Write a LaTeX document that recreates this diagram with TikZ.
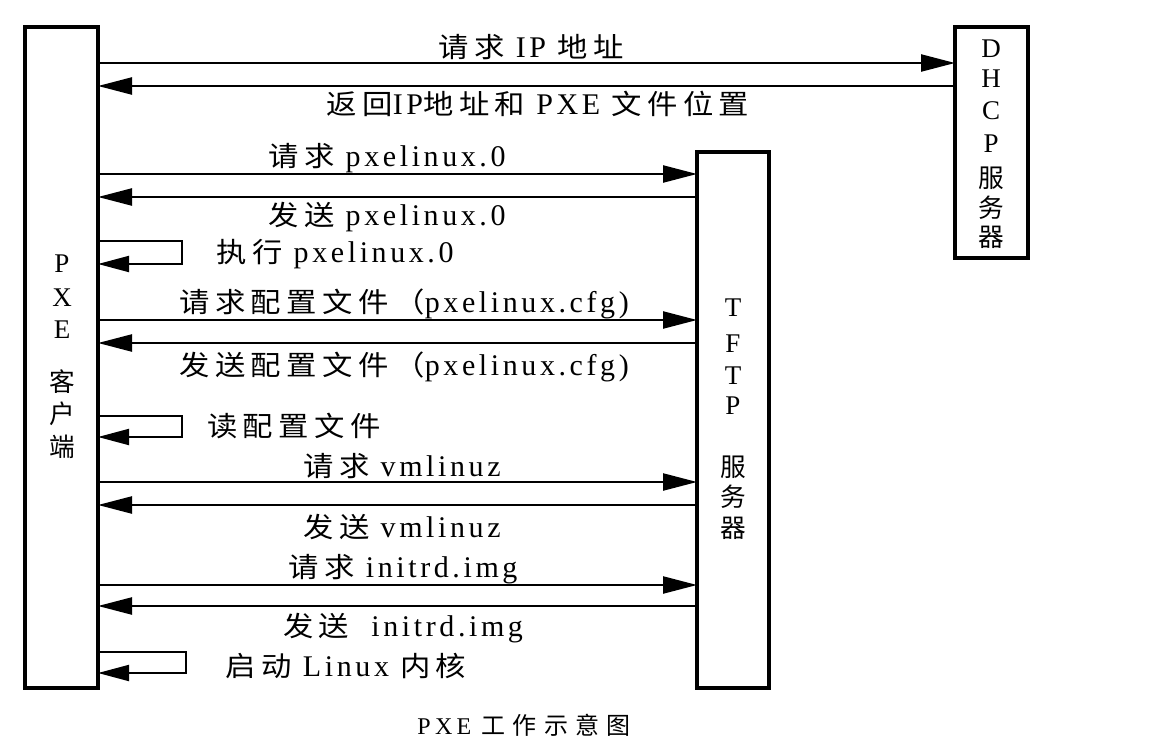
\documentclass[tikz,border=0pt]{standalone}
\usepackage{fontspec}
\setmainfont[LetterSpace=12]{Liberation Serif}
\newfontfamily\cjkf[LetterSpace=20,Scale=0.92,FakeStretch=1.1]{Noto Sans CJK SC}
\newfontfamily\boxcjk[Scale=0.95]{Noto Sans CJK SC}
\newfontfamily\caplat[LetterSpace=18]{Liberation Serif}
\newfontfamily\capcjk[LetterSpace=30]{Noto Sans CJK SC}
\newcommand\C[1]{{\cjkf #1}}
\newcommand\B[1]{{\boxcjk #1}}
\usetikzlibrary{arrows.meta}
\begin{document}
\begin{tikzpicture}[x=1pt,y=-1pt,
  box/.style={draw, line width=3.5pt, inner sep=0pt, outer sep=0pt},
  msg/.style={line width=2.3pt, -{Triangle[length=34pt,width=17pt]}},
  selfloop/.style={line width=1.9pt, -{Triangle[length=31pt,width=16pt]}},
  lbl/.style={font=\fontsize{30}{32}\selectfont, inner sep=0pt},
  ltr/.style={font=\fontsize{27}{29}\selectfont, inner sep=0pt},
]
\useasboundingbox (0,0) rectangle (1152,752);
\fill[white] (0,0) rectangle (1152,752);

% boxes
\node[box, minimum width=73pt, minimum height=661pt] (pxe) at (61.5,357.5) {};
\node[box, minimum width=73pt, minimum height=231pt] (dhcp) at (991.5,142.5) {};
\node[box, minimum width=72pt, minimum height=536pt] (tftp) at (733,420) {};

% box texts
\foreach \t/\y [count=\i] in {P/264,X/298,E/330,{\B{客}}/382,{\B{户}}/414,{\B{端}}/447}
  \node[ltr] (pxe-\i) at (62,\y) {\t};
\foreach \t/\y [count=\i] in {D/49,H/79,C/111,P/144,{\B{服}}/178,{\B{务}}/208,{\B{器}}/237}
  \node[ltr] (dhcp-\i) at (991,\y) {\t};
\foreach \t/\y [count=\i] in {T/308,F/344,T/376,P/406,{\B{服}}/467,{\B{务}}/497,{\B{器}}/528}
  \node[ltr] (tftp-\i) at (733,\y) {\t};

% messages
\draw[msg] (pxe.east |- 0,63) -- (dhcp.west |- 0,63);
\draw[msg] (dhcp.west |- 0,86) -- (pxe.east |- 0,86);
\draw[msg] (pxe.east |- 0,174) -- (tftp.west |- 0,174);
\draw[msg] (tftp.west |- 0,197) -- (pxe.east |- 0,197);
\draw[msg] (pxe.east |- 0,320) -- (tftp.west |- 0,320);
\draw[msg] (tftp.west |- 0,343) -- (pxe.east |- 0,343);
\draw[msg] (pxe.east |- 0,482) -- (tftp.west |- 0,482);
\draw[msg] (tftp.west |- 0,505) -- (pxe.east |- 0,505);
\draw[msg] (pxe.east |- 0,585) -- (tftp.west |- 0,585);
\draw[msg] (tftp.west |- 0,606) -- (pxe.east |- 0,606);

% self loops
\coordinate (c1) at (182,264);
\coordinate (c2) at (182,437);
\coordinate (c3) at (186,673);
\draw[selfloop] (pxe.east |- 0,241) -| (c1) -- (pxe.east |- c1);
\draw[selfloop] (pxe.east |- 0,416) -| (c2) -- (pxe.east |- c2);
\draw[selfloop] (pxe.east |- 0,652) -| (c3) -- (pxe.east |- c3);

% labels
\node[lbl] (m1) at (531,47) {\C{请求} IP \C{地址}};
\node[lbl] (m2) at (538,104) {\C{返回}IP\C{地址和} PXE \C{文件位置}};
\node[lbl] (m3) at (387,158) {\C{请求} pxelinux.0};
\node[lbl] (m4) at (387,217) {\C{发送} pxelinux.0};
\node[lbl] (m5) at (335,254) {\C{执行} pxelinux.0};
\node[lbl] (m6) at (404,304) {\C{请求配置文件（}pxelinux.cfg)};
\node[lbl] (m7) at (404,367) {\C{发送配置文件（}pxelinux.cfg)};
\node[lbl] (m8) at (294,426) {\C{读配置文件}};
\node[lbl] (m9) at (402,466) {\C{请求} vmlinuz};
\node[lbl] (m10) at (402,527) {\C{发送} vmlinuz};
\node[lbl] (m11) at (403,569) {\C{请求} initrd.img};
\node[lbl] (m12) at (403,628) {\C{发送} \ initrd.img};
\node[lbl] (m13) at (346,666) {\C{启动} Linux \C{内核}};

% caption
\node[font=\fontsize{24}{26}\selectfont, inner sep=0pt] (cap) at (524,725) {\caplat PXE {\capcjk 工作示意图}};
\end{tikzpicture}
\end{document}
